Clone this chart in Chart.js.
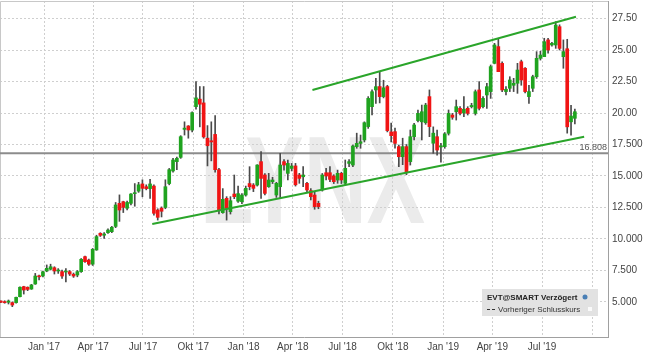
<!DOCTYPE html>
<html>
<head>
<meta charset="utf-8">
<script src="https://cdn.jsdelivr.net/npm/chart.js@4.4.0/dist/chart.umd.min.js"></script>
<style>
    html, body { margin: 0; padding: 0; background: #fff; }
</style>
</head>
<body>
<canvas id="lynxChart" width="645" height="357"></canvas>
<script>
// Weekly candles, first week starts 79 days before 1 Jan 2017
const firstWeekDay = -79;

const opens = [
    5.08, 5.03, 4.98, 4.95, 4.95, 5.42, 6.22, 6.17, 6.03, 6.43,
    7.06, 7.06, 7.46, 7.6, 7.72, 7.46, 7.41, 7.38, 7.41, 7.2,
    7.14, 7.41, 8.6, 8.33, 8.0, 9.13, 10.45, 10.3, 10.5, 10.58,
    11.0, 12.83, 12.96, 12.44, 12.83, 13.6, 13.8, 14.37, 14.15, 14.0,
    14.2, 12.3, 12.45, 12.5, 14.4, 15.4, 16.14, 16.48, 18.7, 18.97,
    18.65, 20.5, 21.1, 20.8, 18.0, 17.8, 18.3, 15.5, 12.09, 13.23,
    12.17, 13.57, 13.0, 12.96, 13.49, 14.4, 14.28, 14.28, 16.14, 15.08,
    14.15, 14.55, 13.49, 14.15, 16.14, 15.21, 15.6, 15.8, 15.08, 14.94,
    14.42, 13.84, 13.49, 12.83, 13.89, 15.26, 15.26, 15.0, 14.68, 15.21,
    14.42, 16.0, 15.87, 17.33, 17.59, 17.86, 18.92, 20.5, 21.83, 22.1,
    21.3, 22.1, 18.5, 18.52, 17.33, 16.53, 17.33, 16.14, 18.12, 19.4,
    19.3, 19.23, 21.3, 17.6, 18.12, 17.3, 17.33, 18.39, 19.84, 20.1,
    20.37, 20.0, 20.37, 20.5, 19.97, 21.83, 20.5, 21.43, 21.69, 23.94,
    25.27, 23.94, 21.7, 21.96, 22.2, 22.36, 24.07, 23.55, 21.3, 21.96,
    22.88, 24.34, 24.47, 25.8, 25.4, 25.4, 26.85, 24.47, 25.1, 19.3,
    19.58
];
const highs = [
    5.1, 5.1, 5.16, 5.0, 5.4, 6.2, 6.25, 6.2, 6.4, 7.27,
    7.14, 7.45, 7.94, 8.0, 7.8, 7.65, 7.54, 7.65, 7.5, 7.3,
    7.5, 8.45, 8.65, 8.4, 9.25, 10.3, 10.5, 10.5, 10.8, 11.0,
    12.9, 13.5, 13.0, 13.0, 13.6, 14.4, 14.5, 14.7, 14.3, 14.74,
    14.3, 12.4, 12.55, 14.7, 15.6, 16.4, 16.5, 18.2, 19.3, 19.0,
    20.1, 22.5, 22.1, 22.1, 19.0, 19.3, 19.8, 15.6, 14.0, 13.36,
    13.36, 15.08, 14.2, 13.6, 14.2, 15.74, 14.4, 15.9, 16.93, 15.2,
    15.21, 14.9, 14.5, 16.8, 16.3, 16.27, 16.0, 16.0, 15.21, 15.74,
    14.5, 14.0, 13.76, 13.0, 15.2, 15.61, 15.74, 15.1, 15.47, 15.3,
    16.27, 16.3, 17.46, 18.4, 18.25, 19.3, 21.3, 21.83, 22.75, 23.3,
    22.6, 22.2, 19.2, 18.8, 17.46, 18.0, 17.5, 18.65, 19.18, 20.24,
    20.63, 20.77, 21.83, 18.9, 18.65, 17.6, 18.45, 20.24, 19.97, 21.03,
    20.5, 21.3, 20.5, 20.77, 21.83, 22.49, 21.3, 22.36, 23.81, 25.53,
    25.93, 24.07, 22.09, 22.88, 22.75, 23.94, 24.2, 23.6, 22.2, 23.0,
    24.87, 24.9, 25.93, 25.93, 25.6, 27.25, 27.0, 25.8, 25.85, 20.6,
    20.32
];
const lows = [
    4.95, 4.9, 4.84, 4.63, 4.9, 5.4, 5.63, 5.9, 6.0, 6.4,
    6.75, 7.0, 7.4, 7.54, 7.22, 7.27, 6.88, 6.6, 7.1, 6.95,
    7.0, 7.35, 8.15, 7.9, 7.9, 9.1, 10.2, 10.05, 10.45, 10.5,
    10.9, 11.4, 12.1, 12.3, 12.7, 12.6, 13.7, 13.35, 13.9, 13.23,
    11.9, 11.5, 11.75, 12.4, 14.3, 15.3, 15.5, 16.4, 18.25, 18.0,
    18.5, 20.3, 18.9, 18.0, 15.8, 16.2, 15.3, 12.0, 12.04, 11.5,
    11.98, 13.2, 12.9, 12.8, 13.4, 13.9, 13.76, 14.2, 13.23, 13.5,
    14.1, 14.4, 13.3, 13.2, 15.47, 14.68, 15.4, 14.2, 14.42, 14.15,
    13.7, 13.1, 12.36, 12.4, 13.8, 14.68, 14.55, 14.4, 14.42, 14.4,
    14.28, 15.74, 15.74, 17.2, 17.2, 17.7, 18.78, 19.84, 20.77, 20.8,
    21.2, 18.5, 17.7, 17.2, 15.74, 15.9, 15.1, 15.87, 17.86, 19.3,
    17.86, 19.1, 18.12, 16.8, 16.66, 16.1, 17.2, 18.25, 19.5, 19.44,
    19.84, 19.7, 19.84, 20.4, 19.84, 20.24, 20.4, 20.37, 21.16, 23.9,
    23.28, 21.7, 21.43, 21.7, 21.7, 21.56, 22.2, 21.6, 20.77, 21.7,
    22.75, 24.2, 24.47, 24.74, 25.3, 25.13, 25.0, 23.55, 18.4, 18.25,
    19.13
];
const closes = [
    4.98, 4.95, 5.08, 4.76, 5.37, 6.17, 5.95, 6.0, 6.35, 7.06,
    7.0, 7.4, 7.67, 7.8, 7.46, 7.5, 7.06, 7.45, 7.22, 7.06,
    7.41, 8.39, 8.2, 8.0, 9.18, 10.19, 10.29, 10.4, 10.71, 10.93,
    12.7, 12.3, 12.51, 12.9, 13.57, 13.65, 14.3, 14.02, 14.0, 14.37,
    12.04, 11.72, 12.2, 14.15, 15.5, 16.27, 16.4, 18.12, 18.8, 18.65,
    20.03, 21.2, 20.7, 18.1, 17.4, 17.7, 15.5, 12.3, 13.15, 12.43,
    13.04, 13.36, 13.6, 13.49, 14.02, 14.15, 14.02, 15.87, 14.81, 13.62,
    14.68, 14.68, 14.42, 15.87, 15.87, 16.0, 15.79, 14.3, 14.81, 15.08,
    13.89, 13.36, 12.57, 12.57, 15.08, 15.0, 14.73, 14.55, 15.21, 14.68,
    15.61, 16.14, 17.38, 17.59, 17.72, 19.23, 21.16, 21.69, 22.09, 21.3,
    22.0, 18.6, 18.2, 17.59, 16.53, 17.33, 15.34, 18.12, 19.05, 19.97,
    20.1, 20.63, 18.92, 18.4, 17.06, 17.4, 18.34, 19.97, 19.66, 20.5,
    19.97, 20.3, 19.97, 20.6, 21.69, 20.37, 21.16, 22.09, 23.68, 25.4,
    23.28, 21.83, 21.88, 22.62, 22.36, 23.41, 22.62, 21.7, 21.7, 22.88,
    24.34, 24.6, 25.66, 25.0, 25.53, 26.98, 25.13, 24.87, 18.9, 19.76,
    20.1
];

// Axis ticks (days since 1 Jan 2017)
const xTickDays = [0, 90, 181, 273, 365, 455, 546, 638, 730, 820, 911, 1003];
const xTickLabels = ["Jan '17", "Apr '17", "Jul '17", "Okt '17", "Jan '18", "Apr '18",
    "Jul '18", "Okt '18", "Jan '19", "Apr '19", "Jul '19", ""];
const yTickValues = [5, 7.5, 10, 12.5, 15, 17.5, 20, 22.5, 25, 27.5];
const yTickLabels = ['5.000', '7.500', '10.000', '12.500', '15.000', '17.500', '20.00', '22.50', '25.00', '27.50'];

// Previous close and trend channel
const prevClose = 16.808;
const prevCloseLabel = '16.808';
const lowerTrend = [{ x: 198, y: 11.19 }, { x: 988, y: 18.12 }];
const upperTrend = [{ x: 491, y: 21.83 }, { x: 973, y: 27.64 }];

const X_MIN = -80.5;
const X_MAX = 1031.6;
const FONT = "'Liberation Sans Narrow', 'Liberation Sans', Arial, sans-serif";

document.addEventListener('DOMContentLoaded', function() {
    initChart();
});

function initChart() {
    const ctx = document.getElementById('lynxChart').getContext('2d');

    const days = opens.map((o, i) => firstWeekDay + i * 7);
    const bodies = days.map((d, i) => ({ x: d, y: [opens[i], closes[i]] }));
    const wicks = days.map((d, i) => ({ x: d, y: [lows[i], highs[i]] }));
    const bodyColors = opens.map((o, i) => closes[i] >= o ? '#1fa31f' : '#f01414');

    // LYNX watermark, frame and legend box
    const decorations = {
        id: 'decorations',
        beforeDraw(chart) {
            const c = chart.ctx;
            c.save();
            c.fillStyle = '#ebebeb';
            c.font = "bold 124px 'Liberation Sans', Arial, sans-serif";
            const w = c.measureText('LYNX').width;
            c.translate(200, 223);
            c.scale(225 / w, 1);
            c.fillText('LYNX', 0, 0);
            c.restore();
        },
        beforeDatasetsDraw(chart) {
            const a = chart.chartArea;
            const c = chart.ctx;
            c.save();
            c.strokeStyle = '#c8c8c8';
            c.lineWidth = 1;
            c.beginPath();
            c.moveTo(a.left + 0.5, a.bottom);
            c.lineTo(a.left + 0.5, a.top + 0.5);
            c.lineTo(a.right, a.top + 0.5);
            c.stroke();
            c.restore();
        },
        afterDraw(chart) {
            const c = chart.ctx;
            const a = chart.chartArea;
            const yPix = chart.scales.y.getPixelForValue(prevClose);
            c.save();
            // previous close label
            c.font = '9px ' + FONT;
            c.textAlign = 'right';
            c.textBaseline = 'bottom';
            c.fillStyle = '#555';
            c.fillText(prevCloseLabel, a.right - 1, yPix - 1.5);

            // legend box
            c.fillStyle = '#e2e2e2';
            c.fillRect(482, 289, 116, 27);
            c.textAlign = 'left';
            c.textBaseline = 'middle';
            c.fillStyle = '#222';
            c.font = "bold 8px 'Liberation Sans', Arial, sans-serif";
            c.fillText('EVT@SMART Verzögert', 487, 297.5);
            c.fillStyle = '#4a7fb5';
            c.beginPath();
            c.arc(585, 297, 2.5, 0, Math.PI * 2);
            c.fill();
            c.strokeStyle = '#333';
            c.lineWidth = 1;
            c.setLineDash([3, 2]);
            c.beginPath();
            c.moveTo(487, 309.5);
            c.lineTo(496, 309.5);
            c.stroke();
            c.setLineDash([]);
            c.fillStyle = '#333';
            c.font = "8px 'Liberation Sans', Arial, sans-serif";
            c.fillText('Vorheriger Schlusskurs', 498, 309.5);
            c.fillStyle = '#fafafa';
            c.fillRect(588, 307, 4, 4);
            c.restore();
        }
    };

    const data = {
        datasets: [
            {
                type: 'line',
                data: lowerTrend,
                borderColor: '#2aa52a',
                borderWidth: 2,
                pointRadius: 0,
                order: 0
            },
            {
                type: 'line',
                data: upperTrend,
                borderColor: '#2aa52a',
                borderWidth: 2,
                pointRadius: 0,
                order: 0
            },
            {
                type: 'line',
                data: [{ x: X_MIN, y: prevClose }, { x: X_MAX, y: prevClose }],
                borderColor: '#8c8c8c',
                borderWidth: 2,
                pointRadius: 0,
                order: 3
            },
            {
                type: 'bar',
                data: wicks,
                backgroundColor: '#4a4a4a',
                barThickness: 1,
                grouped: false,
                order: 2
            },
            {
                type: 'bar',
                data: bodies,
                backgroundColor: bodyColors,
                barThickness: 3,
                minBarLength: 1,
                grouped: false,
                order: 1
            }
        ]
    };

    const config = {
        type: 'bar',
        data: data,
        options: {
            responsive: false,
            animation: false,
            devicePixelRatio: 1,
            layout: {
                padding: { top: 1, left: 0, right: 0, bottom: 0 }
            },
            plugins: {
                legend: { display: false },
                tooltip: { enabled: false }
            },
            scales: {
                x: {
                    type: 'linear',
                    offset: false,
                    min: X_MIN,
                    max: X_MAX,
                    afterBuildTicks: function(scale) {
                        scale.ticks = xTickDays.map(v => ({ value: v }));
                    },
                    afterFit: function(scale) {
                        scale.height = 20;
                        scale.paddingLeft = 0;
                        scale.paddingRight = 0;
                    },
                    grid: {
                        color: '#cfcfcf',
                        drawTicks: false,
                        offset: false
                    },
                    border: {
                        display: true,
                        color: '#a0a0a0',
                        dash: [2, 2]
                    },
                    ticks: {
                        autoSkip: false,
                        maxRotation: 0,
                        padding: 4,
                        color: '#444',
                        font: { family: FONT, size: 10 },
                        callback: function(value) {
                            const i = xTickDays.indexOf(value);
                            return i >= 0 ? xTickLabels[i] : '';
                        }
                    }
                },
                y: {
                    type: 'linear',
                    position: 'right',
                    min: 2.222,
                    max: 28.889,
                    afterBuildTicks: function(scale) {
                        scale.ticks = yTickValues.map(v => ({ value: v }));
                    },
                    afterFit: function(scale) {
                        scale.width = 37;
                        scale.paddingTop = 0;
                        scale.paddingBottom = 0;
                    },
                    grid: {
                        color: '#cfcfcf',
                        drawTicks: false
                    },
                    border: {
                        display: true,
                        color: '#a0a0a0',
                        dash: [2, 2]
                    },
                    ticks: {
                        padding: 4,
                        color: '#444',
                        font: { family: FONT, size: 10 },
                        callback: function(value) {
                            const i = yTickValues.indexOf(value);
                            return i >= 0 ? yTickLabels[i] : '';
                        }
                    }
                }
            }
        },
        plugins: [decorations]
    };

    new Chart(ctx, config);
}
</script>
</body>
</html>
